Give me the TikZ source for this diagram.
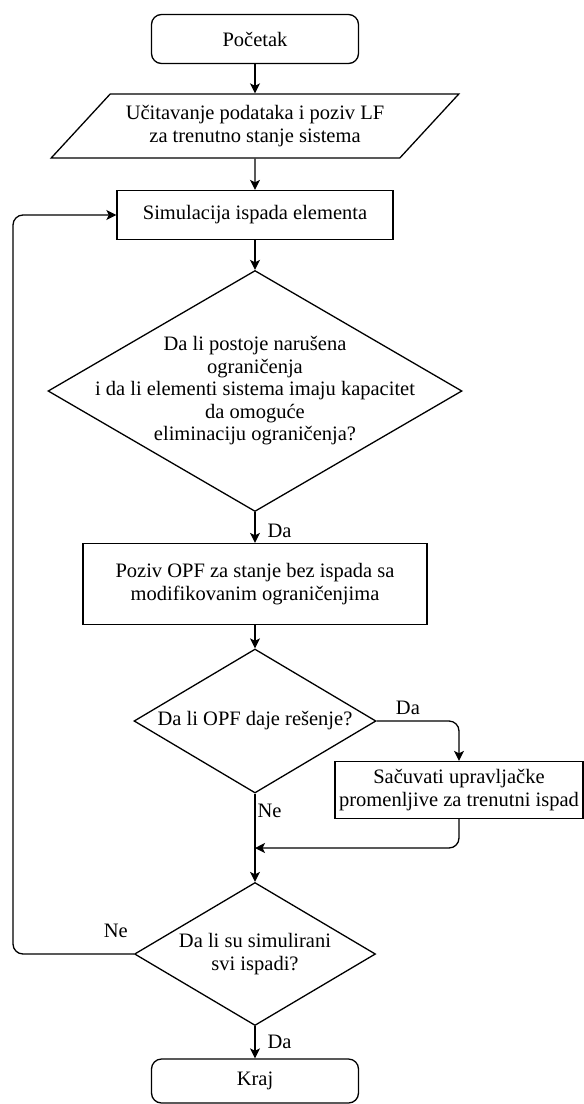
\documentclass[tikz,border=0pt]{standalone}
\usepackage{fontspec}
\setmainfont{Liberation Serif}
\usetikzlibrary{shapes.geometric, arrows.meta}

\begin{document}
\begin{tikzpicture}[x=1pt, y=-1pt, line width=1.3pt,
  font=\fontsize{20.5}{22.5}\selectfont,
  terminal/.style={draw, rounded corners=10pt, minimum width=207pt, minimum height=49pt, inner sep=0pt},
  process/.style={draw, minimum width=276pt, minimum height=49pt, align=center, inner sep=0pt},
  io/.style={draw, trapezium, trapezium left angle=38, trapezium right angle=142, trapezium stretches=true,
    minimum width=408pt, minimum height=64pt, align=center, inner sep=0pt},
  decision/.style={draw, diamond, inner sep=0pt},
  qtext/.style={align=center, inner sep=0pt},
  flow/.style={draw, -{Stealth[length=10pt, width=10pt, inset=2.5pt]}},
  lbl/.style={inner sep=2pt}]

\useasboundingbox (0, 0) rectangle (584, 1104);

% blocks
\node[terminal] (start) at (255, 39) {Početak};
\node[io] (input) at (255, 126) {Učitavanje podataka i poziv LF\\za trenutno stanje sistema};
\node[process] (sim) at (255, 215) {Simulacija ispada elementa};
\node[decision, minimum width=414pt, minimum height=241pt,
  label={[qtext]center:Da li postoje narušena\\ograničenja\\i da li elementi sistema imaju kapacitet\\da omoguće\\eliminaciju ograničenja?}] (check) at (255, 391) {};
\node[process, minimum width=344pt, minimum height=81pt] (opf) at (255, 584) {Poziv OPF za stanje bez ispada sa\\modifikovanim ograničenjima};
\node[decision, minimum width=242pt, minimum height=144pt,
  label={[qtext]center:Da li OPF daje rešenje?}] (solved) at (255, 721) {};
\node[process, minimum width=248pt, minimum height=57pt] (save) at (459, 790) {Sačuvati upravljačke\\promenljive za trenutni ispad};
\coordinate (merge) at (255, 848);
\node[decision, minimum width=241pt, minimum height=143pt,
  label={[qtext]center:Da li su simulirani\\svi ispadi?}] (done) at (255, 954) {};
\coordinate (loop) at (13, 954);
\node[terminal, minimum height=44pt] (end) at (255, 1081) {Kraj};

% connectors
\draw[flow] (start) -- (input);
\draw[flow] (input) -- (sim);
\draw[flow] (sim) -- (check);
\draw[flow] (check) -- node[lbl, right=10pt, pos=0.6] {Da} (opf);
\draw[flow] (opf) -- (solved);
\draw[flow, rounded corners=10pt] (solved.east) -| node[lbl, above=4pt, pos=0.19] {Da} (save.north);
\draw[flow] (solved) -- node[lbl, right=0pt, pos=0.2] {Ne} (done);
\draw[flow, rounded corners=10pt] (save.south) |- (merge);
\draw[flow, rounded corners=10pt] (done.west) -- node[lbl, above=14pt, pos=0.15] {Ne} (loop) |- (sim.west);
\draw[flow] (done) -- node[lbl, right=10pt, pos=0.5] {Da} (end);

\end{tikzpicture}
\end{document}
